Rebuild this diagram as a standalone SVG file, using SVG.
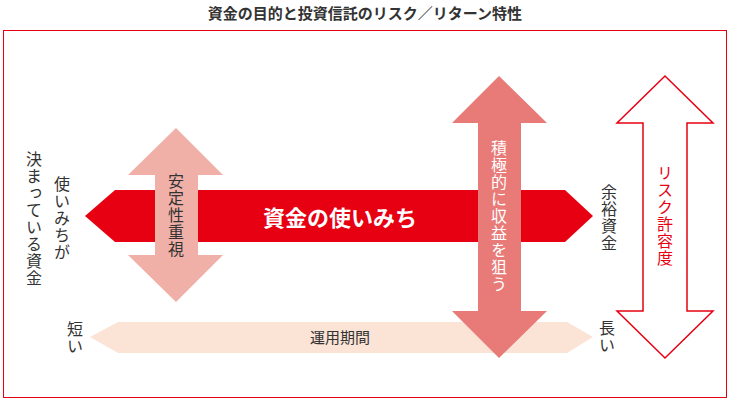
<svg xmlns="http://www.w3.org/2000/svg" width="730" height="401" viewBox="0 0 730 401">
<style>
text{font-family:"Noto Sans CJK JP","Noto Sans",sans-serif;fill:#333}
.v{writing-mode:vertical-rl;font-size:16px;text-anchor:middle;letter-spacing:1px}
</style>
<rect width="730" height="401" fill="#fff"/>
<text x="365" y="19" font-size="15" font-weight="bold" text-anchor="middle">資金の目的と投資信託のリスク／リターン特性</text>
<rect x="3.5" y="30.5" width="723" height="367" fill="none" stroke="#e60012" stroke-width="1"/>
<g id="connectors">
<polygon id="period" points="90,337 118,322 567,322 593,337 567,353 118,353" fill="#fbe3d6"/>
<polygon id="usage" points="85,216 115,190 565,190 593,216 565,242 115,242" fill="#e60012"/>
<polygon id="stability" points="176,128 223,175 198,175 198,255 223,255 176,302 128,255 155,255 155,175 128,175" fill="#f0b0a8"/>
<polygon id="return" points="499,76 547,123 521,123 521,311 547,311 499,358 452,311 478,311 478,123 452,123" fill="#e87a78"/>
<polygon id="risk" points="665,76 713,123 687,123 687,311 713,311 665,358 617,311 643,311 643,123 617,123" fill="#fff" stroke="#e60012" stroke-width="1.5"/>
</g>
<g id="n-usage"><text x="340" y="226" font-size="22" font-weight="bold" text-anchor="middle" style="fill:#fff">資金の使いみち</text></g>
<g id="n-stability"><text class="v" x="176" y="215">安定性重視</text></g>
<g id="n-return"><text class="v" x="499" y="216" style="fill:#fff">積極的に収益を狙う</text></g>
<g id="n-risk"><text class="v" x="665" y="216" style="fill:#e60012">リスク許容度</text></g>
<g id="n-surplus"><text class="v" x="609" y="218">余裕資金</text></g>
<g id="n-fixed"><text class="v" x="62" y="218">使いみちが</text><text class="v" x="34" y="219">決まっている資金</text></g>
<g id="n-short"><text class="v" x="75" y="338">短い</text></g>
<g id="n-long"><text class="v" x="607" y="337">長い</text></g>
<g id="n-period"><text x="340" y="343" font-size="15" text-anchor="middle">運用期間</text></g>
</svg>
